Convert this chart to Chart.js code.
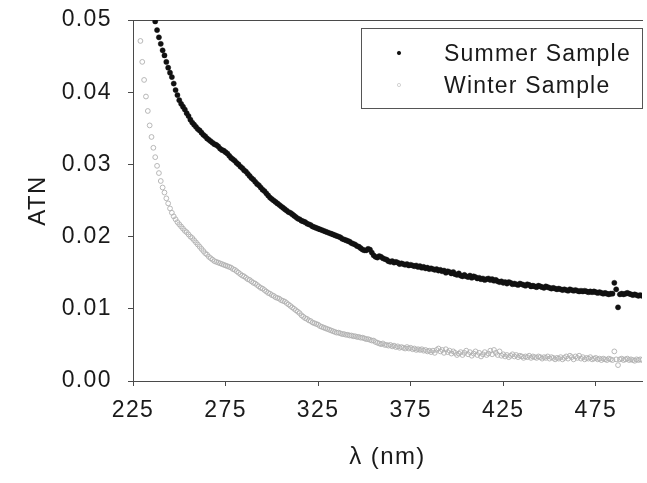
<!DOCTYPE html>
<html>
<head>
<meta charset="utf-8">
<script src="https://cdn.jsdelivr.net/npm/chart.js@4/dist/chart.umd.min.js"></script>
<style>
  html, body { margin: 0; padding: 0; background: #fff; overflow: hidden; }
  canvas { display: block; }
</style>
</head>
<body>
<canvas id="chart" width="647" height="483"></canvas>
<script>
// Light attenuation (ATN) spectra, one reading per nanometre.
const summerStartNm = 237;
const summerATN = [
  0.0498, 0.0486, 0.0476, 0.0467, 0.0458, 0.0451, 0.0442, 0.0434, 0.0427, 0.0421,
  0.0412, 0.0403, 0.0396, 0.0389, 0.0384, 0.0380, 0.0376, 0.0371, 0.0367, 0.0362,
  0.0358, 0.0355, 0.0352, 0.0349, 0.0347, 0.0344, 0.0341, 0.0339, 0.0336, 0.0334,
  0.0332, 0.0330, 0.0328, 0.0327, 0.0325, 0.0322, 0.0320, 0.0319, 0.0317, 0.0315,
  0.0312, 0.0309, 0.0307, 0.0305, 0.0302, 0.0300, 0.0297, 0.0295, 0.0292, 0.0290,
  0.0287, 0.0284, 0.0281, 0.0279, 0.0276, 0.0273, 0.0271, 0.0268, 0.0265, 0.0263,
  0.0260, 0.0257, 0.0254, 0.0252, 0.0250, 0.0248, 0.0246, 0.0244, 0.0242, 0.0240,
  0.0238, 0.0236, 0.0234, 0.0233, 0.0231, 0.0229, 0.0227, 0.0225, 0.0224, 0.0222,
  0.0221, 0.0220, 0.0218, 0.0217, 0.0216, 0.0214, 0.0213, 0.0212, 0.0211, 0.0210,
  0.0209, 0.0208, 0.0207, 0.0206, 0.0205, 0.0204, 0.0203, 0.0202, 0.0201, 0.0200,
  0.0199, 0.0197, 0.0196, 0.0195, 0.0194, 0.0193, 0.0191, 0.0190, 0.0189, 0.0187,
  0.0186, 0.0184, 0.0182, 0.0181, 0.0181, 0.0183, 0.0182, 0.0178, 0.0174, 0.0172,
  0.0171, 0.0173, 0.0172, 0.0170, 0.0169, 0.0168, 0.0166, 0.0165, 0.0166, 0.0164,
  0.0165, 0.0164, 0.0162, 0.0163, 0.0162, 0.0161, 0.0162, 0.0160, 0.0161, 0.0160,
  0.0159, 0.0160, 0.0158, 0.0159, 0.0157, 0.0158, 0.0156, 0.0157, 0.0155, 0.0156,
  0.0155, 0.0154, 0.0155, 0.0153, 0.0154, 0.0152, 0.0153, 0.0150, 0.0152, 0.0151,
  0.0149, 0.0151, 0.0148, 0.0147, 0.0149, 0.0146, 0.0145, 0.0147, 0.0145, 0.0144,
  0.0146, 0.0143, 0.0145, 0.0144, 0.0142, 0.0143, 0.0141, 0.0142, 0.0140, 0.0141,
  0.0142, 0.0140, 0.0141, 0.0139, 0.0140, 0.0138, 0.0137, 0.0138, 0.0136, 0.0137,
  0.0135, 0.0137, 0.0136, 0.0134, 0.0135, 0.0134, 0.0133, 0.0135, 0.0134, 0.0133,
  0.0132, 0.0134, 0.0133, 0.0131, 0.0132, 0.0131, 0.0130, 0.0132, 0.0131, 0.0130,
  0.0129, 0.0131, 0.0130, 0.0129, 0.0128, 0.0129, 0.0128, 0.0127, 0.0128, 0.0127,
  0.0126, 0.0127, 0.0126, 0.0125, 0.0127, 0.0126, 0.0125, 0.0126, 0.0125, 0.0124,
  0.0125, 0.0124, 0.0125, 0.0124, 0.0123, 0.0124, 0.0123, 0.0124, 0.0123, 0.0122,
  0.0123, 0.0122, 0.0121, 0.0122, 0.0121, 0.0120, 0.0121, 0.0121, 0.0136, 0.0127,
  0.0102, 0.0120, 0.0121, 0.0120, 0.0121, 0.0122, 0.0121, 0.0120, 0.0119, 0.0120,
  0.0119, 0.0118, 0.0119, 0.0118, 0.0117
];

const winterStartNm = 229;
const winterATN = [
  0.0471, 0.0442, 0.0417, 0.0394, 0.0374, 0.0354, 0.0338, 0.0323, 0.0310, 0.0298,
  0.0288, 0.0277, 0.0268, 0.0261, 0.0253, 0.0246, 0.0239, 0.0233, 0.0228, 0.0224,
  0.0220, 0.0217, 0.0214, 0.0211, 0.0208, 0.0206, 0.0203, 0.0200, 0.0198, 0.0195,
  0.0192, 0.0189, 0.0186, 0.0183, 0.0180, 0.0177, 0.0175, 0.0172, 0.0170, 0.0168,
  0.0166, 0.0165, 0.0164, 0.0163, 0.0162, 0.0161, 0.0160, 0.0159, 0.0158, 0.0157,
  0.0155, 0.0154, 0.0152, 0.0150, 0.0148, 0.0146, 0.0145, 0.0143, 0.0141, 0.0140,
  0.0138, 0.0136, 0.0135, 0.0133, 0.0131, 0.0129, 0.0128, 0.0126, 0.0124, 0.0122,
  0.0121, 0.0119, 0.0118, 0.0116, 0.0115, 0.0114, 0.0112, 0.0111, 0.0110, 0.0108,
  0.0106, 0.0104, 0.0102, 0.0100, 0.0098, 0.0096, 0.0094, 0.0091, 0.0089, 0.0087,
  0.0086, 0.0084, 0.0083, 0.0081, 0.0080, 0.0079, 0.0078, 0.0076, 0.0075, 0.0074,
  0.0073, 0.0072, 0.0071, 0.0070, 0.0069, 0.0068, 0.0067, 0.0067, 0.0066, 0.0065,
  0.0065, 0.0064, 0.0064, 0.0063, 0.0063, 0.0062, 0.0062, 0.0061, 0.0061, 0.0060,
  0.0060, 0.0059, 0.0058, 0.0058, 0.0057, 0.0056, 0.0056, 0.0054, 0.0053, 0.0052,
  0.0051, 0.0052, 0.0050, 0.0050, 0.0049, 0.0050, 0.0048, 0.0049, 0.0047, 0.0048,
  0.0046, 0.0047, 0.0046, 0.0045, 0.0047, 0.0045, 0.0046, 0.0044, 0.0045, 0.0043,
  0.0044, 0.0043, 0.0044, 0.0042, 0.0043, 0.0041, 0.0042, 0.0040, 0.0042, 0.0039,
  0.0043, 0.0045, 0.0041, 0.0043, 0.0039, 0.0044, 0.0040, 0.0042, 0.0038, 0.0041,
  0.0039, 0.0036, 0.0038, 0.0040, 0.0036, 0.0039, 0.0042, 0.0037, 0.0040, 0.0035,
  0.0038, 0.0041, 0.0036, 0.0039, 0.0034, 0.0037, 0.0040, 0.0036, 0.0038, 0.0042,
  0.0037, 0.0043, 0.0039, 0.0036, 0.0041, 0.0035, 0.0037, 0.0034, 0.0036, 0.0033,
  0.0035, 0.0037, 0.0034, 0.0036, 0.0033, 0.0035, 0.0034, 0.0032, 0.0034, 0.0033,
  0.0035, 0.0032, 0.0034, 0.0033, 0.0032, 0.0034, 0.0033, 0.0031, 0.0033, 0.0032,
  0.0034, 0.0031, 0.0033, 0.0032, 0.0030, 0.0032, 0.0031, 0.0033, 0.0030, 0.0032,
  0.0034, 0.0031, 0.0035, 0.0033, 0.0030, 0.0034, 0.0032, 0.0035, 0.0031, 0.0033,
  0.0030, 0.0032, 0.0031, 0.0033, 0.0030, 0.0031, 0.0032, 0.0030, 0.0031, 0.0029,
  0.0031, 0.0030, 0.0029, 0.0031, 0.0030, 0.0029, 0.0041, 0.0030, 0.0022, 0.0030,
  0.0031, 0.0029, 0.0030, 0.0031, 0.0029, 0.0030, 0.0029, 0.0028, 0.0030, 0.0029,
  0.0030, 0.0029
];

const seriesNames = ['Summer Sample', 'Winter Sample'];
const xTickValues = [225, 275, 325, 375, 425, 475];
const yTickValues = [0, 0.01, 0.02, 0.03, 0.04, 0.05];

const FAMILY = '"Liberation Sans", Arial, Helvetica, sans-serif';
const INK = '#1a1a1a';
const AXIS = '#4a4a4a';
const SUMMER_COLOR = '#111111';
const WINTER_COLOR = '#b0b0b0';

function toPoints(startNm, values) {
  return values.map((v, i) => ({ x: startNm + i, y: v }));
}

// Slightly tracked-out lettering for all chart text.
const tracking = {
  id: 'tracking',
  beforeUpdate(chart) { chart.ctx.letterSpacing = '1.4px'; },
  beforeDraw(chart) { chart.ctx.letterSpacing = '1.4px'; }
};

// Boxed legend in the upper right of the plot area.
const boxedLegend = {
  id: 'boxedLegend',
  afterDatasetsDraw(chart) {
    const ctx = chart.ctx;
    const a = chart.chartArea;
    const left = a.left + 228, top = a.top + 8, w = 281, h = 80;
    ctx.save();
    ctx.fillStyle = '#ffffff';
    ctx.fillRect(left, top, w, h);
    ctx.strokeStyle = '#555555';
    ctx.lineWidth = 1;
    ctx.strokeRect(left + 0.5, top + 0.5, w, h);

    const rows = [
      { name: seriesNames[0], fill: SUMMER_COLOR, stroke: SUMMER_COLOR, r: 1.7 },
      { name: seriesNames[1], fill: null, stroke: '#c8c8c8', r: 1.6 }
    ];
    ctx.font = '23px ' + FAMILY;
    ctx.letterSpacing = '1.2px';
    ctx.textBaseline = 'middle';
    ctx.textAlign = 'left';
    rows.forEach((row, i) => {
      const cy = top + 25 + i * 32;
      ctx.beginPath();
      ctx.arc(left + 38, cy, row.r, 0, Math.PI * 2);
      if (row.fill) { ctx.fillStyle = row.fill; ctx.fill(); }
      ctx.strokeStyle = row.stroke;
      ctx.lineWidth = 0.8;
      ctx.stroke();
      ctx.fillStyle = INK;
      ctx.fillText(row.name, left + 83, cy + 2);
    });
    ctx.restore();
  }
};

new Chart(document.getElementById('chart'), {
  type: 'scatter',
  data: {
    datasets: [
      {
        label: seriesNames[0],
        data: toPoints(summerStartNm, summerATN),
        pointStyle: 'circle',
        pointRadius: 2.6,
        pointBackgroundColor: SUMMER_COLOR,
        pointBorderColor: SUMMER_COLOR,
        pointBorderWidth: 0.4,
        showLine: false
      },
      {
        label: seriesNames[1],
        data: toPoints(winterStartNm, winterATN),
        pointStyle: 'circle',
        pointRadius: 2.4,
        pointBackgroundColor: 'rgba(255,255,255,0)',
        pointBorderColor: WINTER_COLOR,
        pointBorderWidth: 0.9,
        showLine: false
      }
    ]
  },
  options: {
    responsive: false,
    animation: false,
    devicePixelRatio: 1,
    layout: { padding: 0 },
    plugins: {
      legend: { display: false },
      tooltip: { enabled: false }
    },
    scales: {
      x: {
        type: 'linear',
        position: 'bottom',
        min: 225,
        max: 500,
        afterBuildTicks: s => { s.ticks = xTickValues.map(v => ({ value: v })); },
        afterFit: s => { s.height = 102; s.paddingLeft = 0; s.paddingRight = 0; },
        grid: { drawOnChartArea: false, drawTicks: true, tickLength: 5, color: AXIS, lineWidth: 1 },
        border: { color: AXIS, width: 1 },
        ticks: { color: INK, font: { family: FAMILY, size: 23 }, padding: 11, maxRotation: 0 },
        title: {
          display: true, text: 'λ (nm)', color: INK,
          font: { family: FAMILY, size: 24 },
          padding: { top: 0, bottom: 11 }
        }
      },
      xTop: {
        type: 'linear',
        position: 'top',
        min: 225,
        max: 500,
        afterFit: s => { s.height = 20; s.paddingLeft = 0; s.paddingRight = 0; },
        grid: { display: false },
        ticks: { display: false },
        border: { color: AXIS, width: 1 }
      },
      y: {
        type: 'linear',
        position: 'left',
        min: 0,
        max: 0.05,
        afterBuildTicks: s => { s.ticks = yTickValues.map(v => ({ value: v })); },
        afterFit: s => { s.width = 133; s.paddingTop = 0; s.paddingBottom = 0; },
        grid: { drawOnChartArea: false, drawTicks: true, tickLength: 5, color: AXIS, lineWidth: 1 },
        border: { color: AXIS, width: 1 },
        ticks: {
          color: INK, font: { family: FAMILY, size: 23 }, padding: 16,
          callback: v => Number(v).toFixed(2)
        },
        title: {
          display: true, text: 'ATN', color: INK,
          font: { family: FAMILY, size: 24 },
          padding: { top: 24, bottom: 0 }
        }
      }
    }
  },
  plugins: [tracking, boxedLegend]
});
</script>
</body>
</html>
